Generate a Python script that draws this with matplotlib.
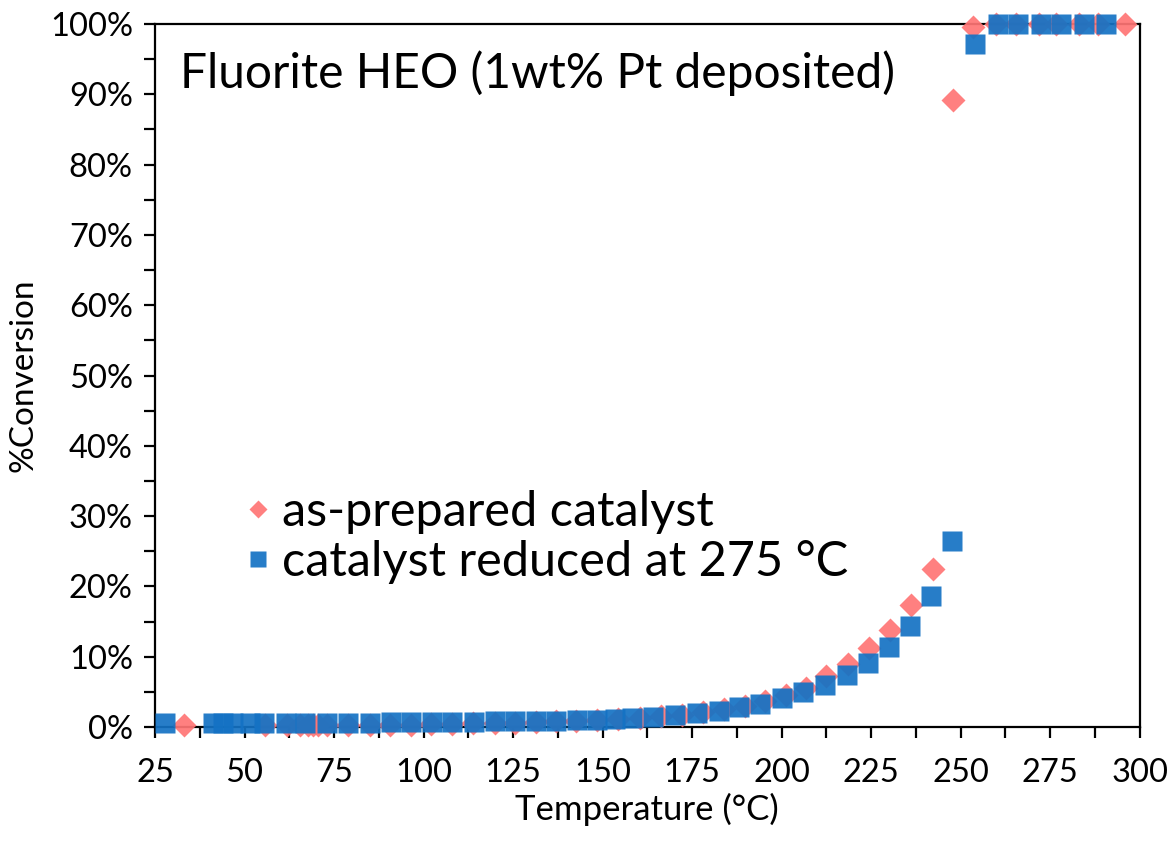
import numpy as np
import matplotlib
matplotlib.use('Agg')
import matplotlib.pyplot as plt
from matplotlib.ticker import MultipleLocator, PercentFormatter

plt.rcParams['font.family'] = ['Lato', 'DejaVu Sans']

# as-prepared catalyst
temp_red = [33, 55.7, 61.8, 65.5, 67.8, 69.2, 70.6, 72.9, 79, 85, 90.6, 96.4,
            102.2, 108, 113.8, 119.9, 125.5, 131.4, 137.1, 142.7, 148.5, 154.3,
            160.4, 166.4, 172.3, 178.1, 183.8, 189.7, 195.3, 201.3, 206.9, 212.5,
            218.5, 224.5, 230.2, 236.2, 242.2, 247.9, 253.4, 260, 265.5, 272,
            276.7, 283.2, 288.3, 295.8]
conv_red = [0.25, 0.25, 0.25, 0.25, 0.25, 0.25, 0.25, 0.25, 0.3, 0.3, 0.3, 0.35,
            0.4, 0.45, 0.5, 0.55, 0.6, 0.7, 0.8, 0.9, 1.0, 1.1,
            1.28, 1.56, 1.75, 2.13, 2.5, 3.0, 3.66, 4.5, 5.6, 7.2,
            9.0, 11.2, 13.8, 17.3, 22.5, 89.2, 99.6, 100, 100, 100,
            100, 100, 100, 100]

# catalyst reduced at 275 C
temp_blue = [27.8, 41.2, 44, 46.9, 51.5, 55.5, 61.5, 67, 73, 79, 85, 91, 96.5,
             102.5, 108, 114, 120, 125.5, 131.5, 137, 143, 148.5, 153.5, 158.1,
             164.1, 170.2, 176.4, 182.5, 188.1, 193.9, 200.2, 206, 212, 218.3,
             224.1, 230, 235.8, 241.8, 247.6, 253.9, 260.4, 266, 272.5, 278.1,
             284.6, 290.6]
conv_blue = [0.5, 0.5, 0.5, 0.5, 0.5, 0.5, 0.5, 0.55, 0.55, 0.6, 0.6, 0.65, 0.65,
             0.7, 0.7, 0.75, 0.8, 0.8, 0.85, 0.9, 0.95, 1.0, 1.1, 1.24,
             1.47, 1.7, 1.94, 2.28, 2.8, 3.27, 4.08, 5.0, 6.0, 7.4,
             9.1, 11.4, 14.3, 18.7, 26.4, 97.2, 100, 100, 100, 100,
             100, 100]

fig = plt.figure(figsize=(11.7, 8.43), dpi=100)
ax = fig.add_axes([0.1325, 0.1376, 0.8415, 0.8339])

ax.plot(temp_red, conv_red, 'D', ms=12, color='#FF7575', alpha=0.92,
        mec='none', clip_on=False, label='as-prepared catalyst', zorder=3)
ax.plot(temp_blue, conv_blue, 's', ms=14.5, color='#1472C4', alpha=0.92,
        mec='none', clip_on=False, label='catalyst reduced at 275 \u00b0C', zorder=4)

ax.set_xlim(25, 300)
ax.set_ylim(0, 100)
ax.xaxis.set_major_locator(MultipleLocator(25))
ax.xaxis.set_minor_locator(MultipleLocator(12.5))
ax.yaxis.set_major_locator(MultipleLocator(10))
ax.yaxis.set_minor_locator(MultipleLocator(5))
ax.yaxis.set_major_formatter(PercentFormatter(100, decimals=0))

for s in ax.spines.values():
  s.set_linewidth(1.6)
ax.tick_params(which='both', direction='out', width=1.6, length=8, labelsize=23.5)
ax.tick_params(axis='y', which='both', pad=8)
ax.tick_params(axis='x', which='both', pad=14)

ax.set_xlabel('Temperature (\u00b0C)', fontsize=25, labelpad=4)
ax.set_ylabel('%Conversion', fontsize=24, labelpad=8)

ax.text(0.025, 0.93, 'Fluorite HEO (1wt% Pt deposited)', transform=ax.transAxes,
        fontsize=34.5, va='center', ha='left')

leg = ax.legend(loc='upper left', bbox_to_anchor=(0.07, 0.365), frameon=False,
                fontsize=35, markerscale=0.75, handlelength=0.6,
                handletextpad=0.2, labelspacing=0.12, borderaxespad=0)

fig.savefig('out.png', dpi=100)
